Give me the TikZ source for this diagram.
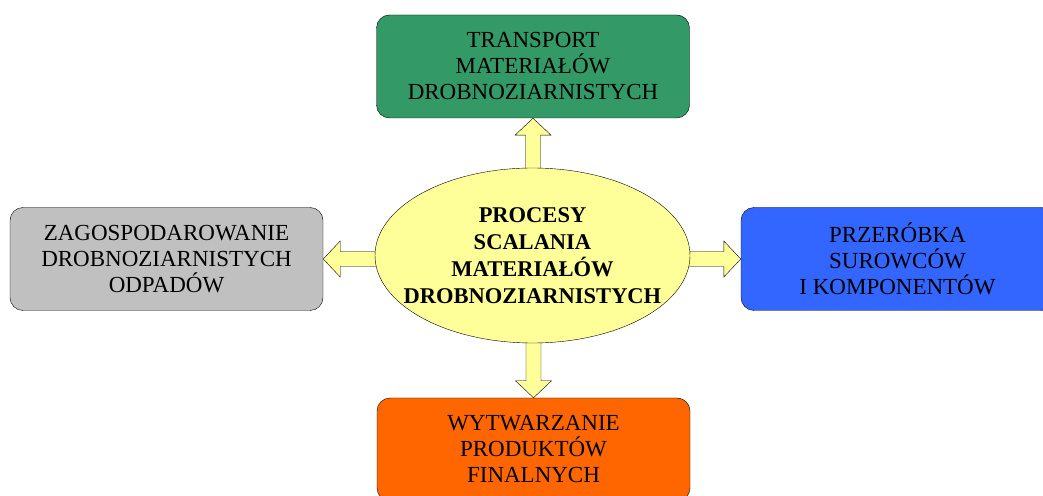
\documentclass[tikz,border=0pt]{standalone}
\usepackage{fontspec}
\setmainfont{Liberation Serif}
\usetikzlibrary{calc}
\usetikzlibrary{shapes.geometric}
\usetikzlibrary{backgrounds}
\definecolor{boxgreen}{HTML}{339966}
\definecolor{boxgray}{HTML}{C0C0C0}
\definecolor{boxblue}{HTML}{3366FF}
\definecolor{boxorange}{HTML}{FF6600}
\definecolor{paleyellow}{HTML}{FFFF99}
\tikzset{
	boxstyle/.style={rectangle,rounded corners=13,draw=black,minimum width=313,minimum height=103,align=center,inner sep=0,font=\fontsize{23}{26}\selectfont},
	centerstyle/.style={ellipse,draw=black,fill=paleyellow,minimum width=315,minimum height=175,align=center,inner xsep=-25,inner ysep=0,font=\bfseries\fontsize{22.5}{27}\selectfont},
	arrowstyle/.style={draw=black,fill=paleyellow,line join=miter}
}
% fat yellow arrow from #1 to #2
\newcommand{\fatarrow}[2]{%
	\coordinate (h) at ($(#2)!17pt!(#1)$);
	\draw[arrowstyle] ($(#1)!7.5pt!90:(#2)$) -- ($(h)!7.5pt!90:(#2)$) -- ($(h)!18pt!90:(#2)$) -- (#2)
		-- ($(h)!18pt!-90:(#2)$) -- ($(h)!7.5pt!-90:(#2)$) -- ($(#1)!7.5pt!-90:(#2)$) -- cycle;
}
\begin{document}
\begin{tikzpicture}[x=1pt,y=1pt]
	\useasboundingbox (0,0) rectangle (1043,495);
	\clip (0,0) rectangle (1043,495);
	\node[centerstyle] (proc) at (532.5,239.5) {PROCESY\\SCALANIA\\MATERIAŁÓW\\DROBNOZIARNISTYCH};
	\node[boxstyle,fill=boxgreen] (transport) at (533,428.5) {TRANSPORT\\MATERIAŁÓW\\DROBNOZIARNISTYCH};
	\node[boxstyle,fill=boxgray] (odpady) at (166.5,236) {ZAGOSPODAROWANIE\\DROBNOZIARNISTYCH\\ODPADÓW};
	\node[boxstyle,fill=boxblue] (surowce) at (897.5,236) {PRZERÓBKA\\SUROWCÓW\\I KOMPONENTÓW};
	\node[boxstyle,fill=boxorange] (produkty) at (533.5,45.5) {WYTWARZANIE\\PRODUKTÓW\\FINALNYCH};
	\begin{scope}[on background layer]
		\fatarrow{transport.south |- proc.center}{transport.south}
		\fatarrow{proc.center |- odpady.east}{odpady.east}
		\fatarrow{proc.center |- surowce.west}{surowce.west}
		\fatarrow{produkty.north |- proc.center}{produkty.north}
	\end{scope}
\end{tikzpicture}
\end{document}
